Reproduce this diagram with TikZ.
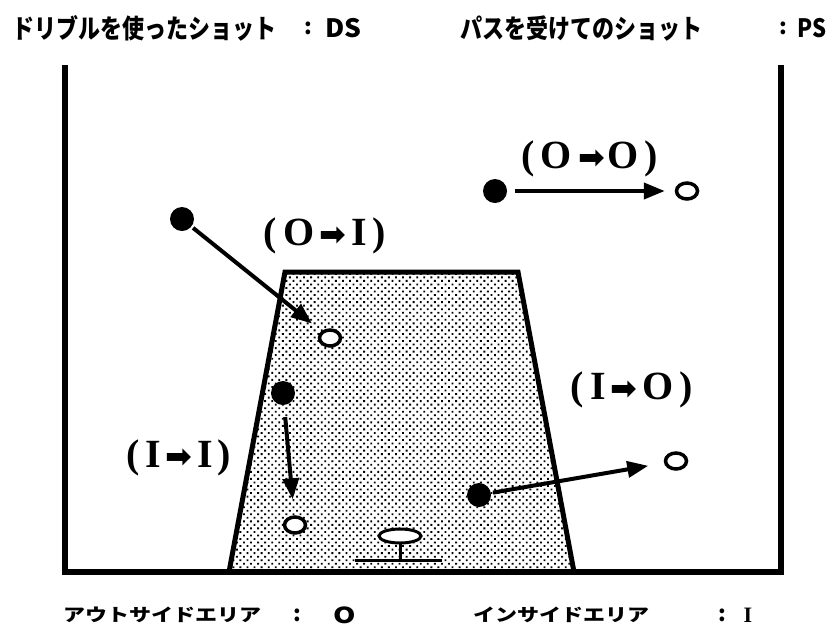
\documentclass[tikz,border=0pt]{standalone}
\usepackage{fontspec}
\usetikzlibrary{arrows.meta,patterns.meta,shapes.geometric}
\newfontfamily\jpfont{Noto Sans CJK JP}
\newfontfamily\lblfont{Liberation Serif}
\newfontfamily\symfont{DejaVu Sans}
\newcommand\shotarw{{\symfont\fontsize{32}{32}\selectfont ➡}}
\begin{document}
\begin{tikzpicture}[x=1pt,y=-1pt,
  court/.style={line width=5.5pt,line join=miter},
  shot/.style={line width=4pt,-{Triangle[length=21pt,width=16pt]}},
  ball/.style={circle,fill=black,minimum size=24pt,inner sep=0pt},
  target/.style={ellipse,draw=black,line width=3.5pt,fill=white,minimum width=21pt,minimum height=16pt,inner sep=0pt},
  lbl/.style={font=\lblfont\bfseries\fontsize{40}{42}\selectfont,inner sep=0pt},
  toptxt/.style={font=\jpfont\bfseries\fontsize{22}{24}\selectfont,inner sep=0pt},
  bottxt/.style={font=\jpfont\bfseries\fontsize{22}{24}\selectfont,inner sep=0pt}]
\useasboundingbox (0,0) rectangle (835,638);
% key area
\fill[pattern={Dots[distance=5pt,radius=1.3pt,angle=45]}] (229,572) -- (285,272) -- (518,272) -- (574,572) -- cycle;
\draw[line width=5pt,line join=miter] (229,572) -- (285,272) -- (518,272) -- (574,572);
% court
\draw[court] (65,65) -- (65,572) -- (781,572) -- (781,65);
% basket
\draw[line width=3pt] (355,560) -- (442,560);
\draw[line width=3pt] (400,544) -- (400,560);
\node[ellipse,draw=black,line width=3pt,fill=white,minimum width=42pt,minimum height=14pt,inner sep=0pt] (rim) at (400,536) {};
% balls and targets
\node[ball] (b1) at (495,191) {};
\node[target] (t1) at (687,191) {};
\node[ball] (b2) at (182,219) {};
\node[target] (t2) at (330,338) {};
\node[ball] (b3) at (283,393) {};
\node[target] (t3) at (295,525) {};
\node[ball] (b4) at (479,495) {};
\node[target] (t4) at (676,461) {};
% shots
\draw[shot,shorten <=8pt,shorten >=10pt] (b1) -- (t1);
\draw[shot,shorten <=2pt,shorten >=12pt] (b2) -- (t2);
\draw[shot,shorten <=12pt,shorten >=16pt] (b3) -- (t3);
\draw[shot,shorten <=2pt,shorten >=16pt] (b4) -- (t4);
% labels
\node[lbl] (l1) at (590,159) {(\hspace{6pt}O\hspace{6pt}\shotarw\hspace{3pt}O\hspace{6pt})};
\node[lbl] (l2) at (325,236) {(\hspace{6pt}O\hspace{5pt}\shotarw\hspace{5pt}I\hspace{6pt})};
\node[lbl] (l3) at (632,390) {(\hspace{6pt}I\hspace{5pt}\shotarw\hspace{5pt}O\hspace{6pt})};
\node[lbl] (l4) at (179,458) {(\hspace{5pt}I\hspace{5pt}\shotarw\hspace{5pt}I\hspace{5pt})};
% top legend
\node[toptxt,anchor=west] (ds) at (12,28) {\scalebox{1}[1.2]{ドリブルを使ったショット}};
\node[toptxt] (dsc) at (308,28) {:};
\node[toptxt,anchor=west] (dsv) at (325,28) {\scalebox{1.2}[1.15]{DS}};
\node[toptxt,anchor=west] (ps) at (460,28) {\scalebox{1}[1.2]{パスを受けてのショット}};
\node[toptxt] (psc) at (783,28) {:};
\node[toptxt,anchor=west] (psv) at (797,28) {\scalebox{1}[1.15]{PS}};
% bottom legend
\node[bottxt,anchor=west] (oa) at (63,615) {\scalebox{1}[0.8]{アウトサイドエリア}};
\node[bottxt] (oac) at (297,615) {:};
\node[bottxt] (oav) at (345,615) {\scalebox{1.3}[1]{O}};
\node[bottxt,anchor=west] (ia) at (473,615) {\scalebox{1}[0.8]{インサイドエリア}};
\node[bottxt] (iac) at (722,615) {:};
\node[bottxt] (iav) at (748,615) {\lblfont I};
\end{tikzpicture}
\end{document}
